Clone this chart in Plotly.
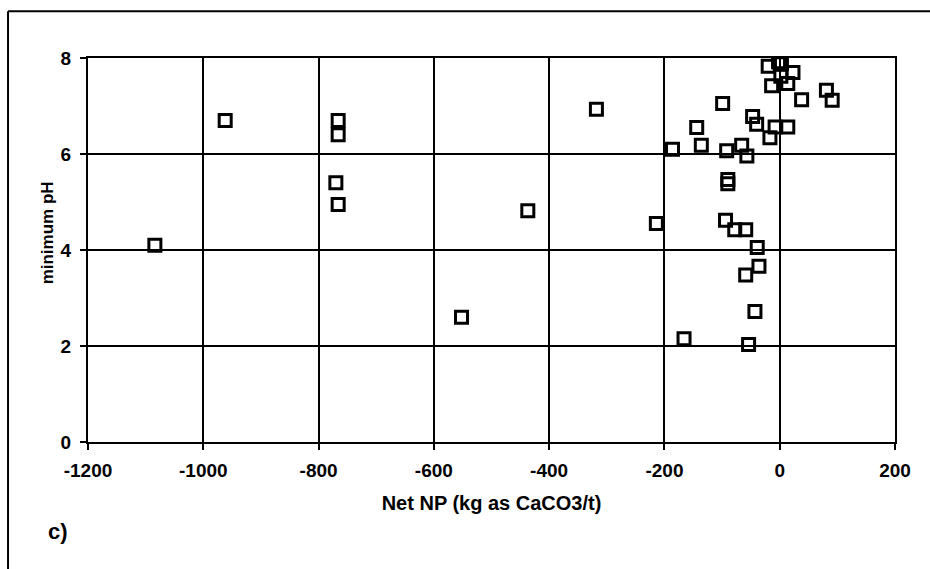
import plotly.graph_objects as go

# Net NP (kg as CaCO3/t) and minimum pH
net_np = [-1084, -962, -766, -766, -770, -766, -552, -437, -318, -214,
          -186, -166, -144, -136, -99, -92, -90, -90, -94, -78,
          -59, -66, -57, -47, -40, -17, -8, 14, -39, -36,
          -59, -43, -54, -20, -2, 3, 23, 2, -14, 14,
          38, 81, 91]
min_ph = [4.1, 6.7, 6.7, 6.4, 5.4, 4.95, 2.6, 4.82, 6.93, 4.55,
          6.1, 2.15, 6.55, 6.18, 7.05, 6.07, 5.47, 5.38, 4.62, 4.42,
          4.42, 6.18, 5.96, 6.78, 6.62, 6.34, 6.56, 6.56, 4.05, 3.66,
          3.48, 2.72, 2.03, 7.83, 7.92, 7.88, 7.7, 7.62, 7.42, 7.47,
          7.13, 7.33, 7.12]

x_ticks = [-1200, -1000, -800, -600, -400, -200, 0, 200]
x_tick_labels = ["-1200", "-1000", "-800", "-600", "-400", "-200", "0", "200"]
y_ticks = [0, 2, 4, 6, 8]
y_tick_labels = ["0", "2", "4", "6", "8"]

FONT = "Liberation Sans, Arial, sans-serif"

fig = go.Figure()
fig.add_trace(go.Scatter(
    x=net_np, y=min_ph, mode="markers",
    marker=dict(symbol="square-open", size=12, color="black",
                line=dict(width=3, color="black")),
    showlegend=False, hoverinfo="x+y"))

axis_common = dict(
    showline=True, linecolor="black", linewidth=2, mirror=True,
    showgrid=True, gridcolor="black", gridwidth=1.5,
    zeroline=False, ticks="outside", ticklen=6, tickwidth=2,
    tickcolor="black",
    tickfont=dict(family=FONT, size=19, color="black", weight="bold"),
)

fig.update_xaxes(range=[-1200, 200], tickvals=x_ticks, ticktext=x_tick_labels,
                 ticklabelstandoff=4,
                 title=dict(text="Net NP (kg as CaCO3/t)", standoff=16,
                            font=dict(family=FONT, size=20, color="black",
                                      weight="bold")),
                 **axis_common)
fig.update_yaxes(range=[0, 8], tickvals=y_ticks, ticktext=y_tick_labels,
                 ticklabelstandoff=5, **axis_common)

fig.update_layout(
    width=930, height=569,
    margin=dict(l=88, r=35, t=58, b=127, autoexpand=False),
    paper_bgcolor="white", plot_bgcolor="white",
    font=dict(family=FONT, color="black"),
    annotations=[
        dict(text="minimum pH", xref="paper", yref="paper",
             x=-0.05, y=0.545, textangle=-90, showarrow=False,
             xanchor="center", yanchor="middle",
             font=dict(family=FONT, size=17, color="#000000", weight="bold")),
        dict(text="c)", xref="paper", yref="paper",
             x=-0.037, y=-0.232, showarrow=False,
             xanchor="center", yanchor="middle",
             font=dict(family=FONT, size=22, color="black", weight="bold")),
    ],
    shapes=[
        dict(type="line", xref="paper", yref="paper",
             x0=-0.0991, x1=1.06, y0=1.122, y1=1.122,
             line=dict(color="black", width=2)),
        dict(type="line", xref="paper", yref="paper",
             x0=-0.0991, x1=-0.0991, y0=1.122, y1=-0.34,
             line=dict(color="black", width=2)),
    ],
)

fig.write_html("out.html")
